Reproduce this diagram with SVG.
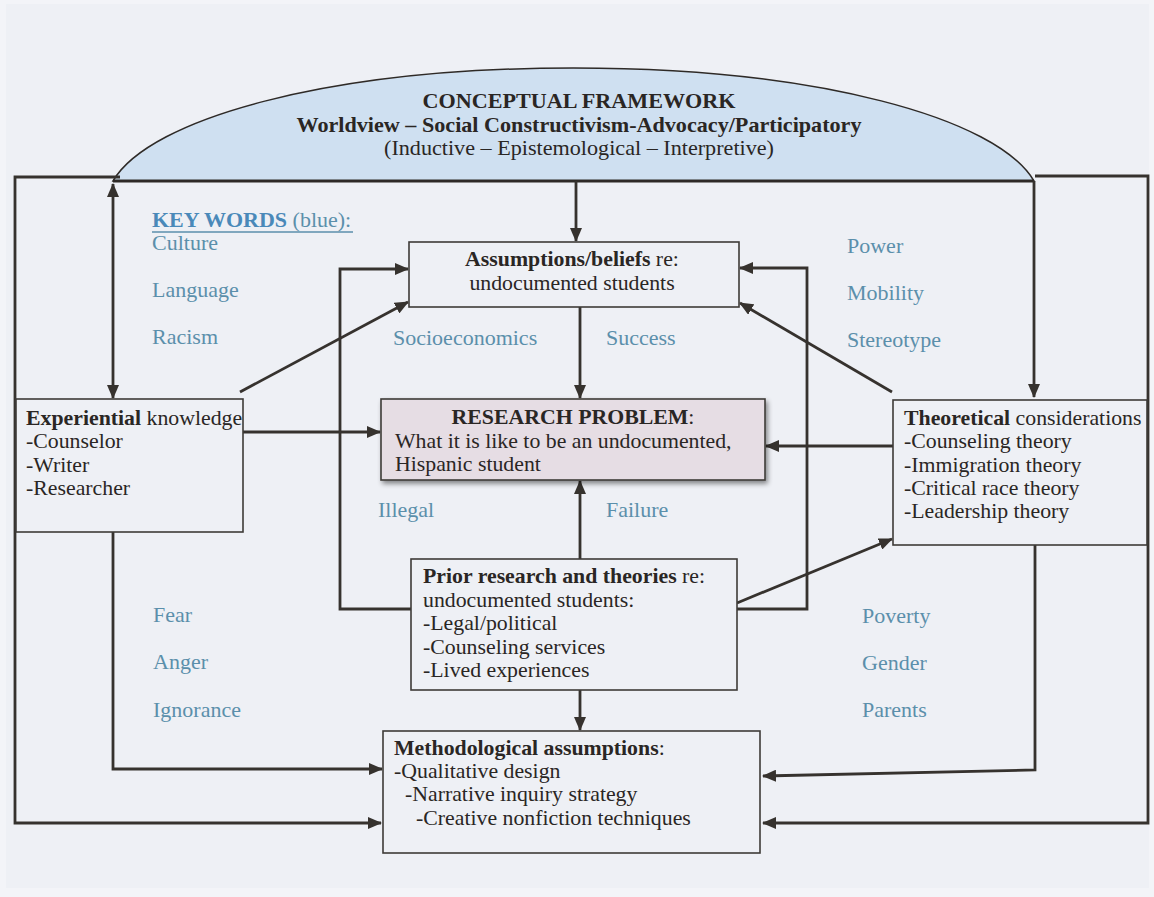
<svg xmlns="http://www.w3.org/2000/svg" width="1154" height="897" viewBox="0 0 1154 897">
<defs>
<marker id="ah" markerWidth="14" markerHeight="12" refX="13" refY="6" orient="auto-start-reverse" markerUnits="userSpaceOnUse">
<path d="M0,0 L14,6 L0,12 Z" fill="#36322e"/>
</marker>
<filter id="sh" x="-10%" y="-20%" width="125%" height="150%">
<feGaussianBlur in="SourceAlpha" stdDeviation="2.5"/>
<feOffset dx="2" dy="3" result="b"/>
<feComponentTransfer><feFuncA type="linear" slope="0.45"/></feComponentTransfer>
<feMerge><feMergeNode/><feMergeNode in="SourceGraphic"/></feMerge>
</filter>
</defs>
<style>
.bg{fill:#eef0f5}
.box{fill:#eef0f5;stroke:#3e3b38;stroke-width:1.6}
.c{fill:none;stroke:#36322e;stroke-width:2.8}
.t{font-family:"Liberation Serif","Times New Roman",serif;font-size:21.8px;fill:#2a2624}
.b{font-weight:bold}
.k{font-family:"Liberation Serif","Times New Roman",serif;font-size:22px;fill:#5b8fab}
.h{font-family:"Liberation Serif","Times New Roman",serif;font-size:21.5px;fill:#2a2624}
</style>
<rect x="0" y="0" width="1154" height="897" fill="#f3f4f8"/>
<rect class="bg" x="6" y="4" width="1143" height="884"/>

<g id="framework">
<path d="M113,181 C150,118 330,68 573.5,68 C817,68 997,118 1034,181 Z" fill="#cfe0f1" stroke="#2e2a27" stroke-width="1.5"/>
<line x1="113" y1="181" x2="1034" y2="181" stroke="#2e2a27" stroke-width="2.8"/>
<text class="h b" x="579" y="108" text-anchor="middle" textLength="313" lengthAdjust="spacingAndGlyphs">CONCEPTUAL FRAMEWORK</text>
<text class="h b" x="579" y="132" text-anchor="middle" textLength="565" lengthAdjust="spacingAndGlyphs">Worldview – Social Constructivism-Advocacy/Participatory</text>
<text class="h" x="579" y="155" text-anchor="middle" textLength="390" lengthAdjust="spacingAndGlyphs">(Inductive – Epistemological – Interpretive)</text>
</g>

<g id="connectors">
<path class="c" d="M120,177 H15 V823 H381" marker-end="url(#ah)"/>
<path class="c" d="M1035,176 H1148 V823 H763" marker-end="url(#ah)"/>
<path class="c" d="M113,184 V398" marker-start="url(#ah)" marker-end="url(#ah)"/>
<path class="c" d="M1034,181 V397" marker-end="url(#ah)"/>
<path class="c" d="M576,181 V241" marker-end="url(#ah)"/>
<path class="c" d="M580,307 V398" marker-end="url(#ah)"/>
<path class="c" d="M580,559 V481" marker-end="url(#ah)"/>
<path class="c" d="M580,690 V730" marker-end="url(#ah)"/>
<path class="c" d="M411,609 H340 V269 H408" marker-end="url(#ah)"/>
<path class="c" d="M737,609 H807 V268 H740" marker-end="url(#ah)"/>
<path class="c" d="M240,392 L408,302" marker-end="url(#ah)"/>
<path class="c" d="M892,392 L740,303" marker-end="url(#ah)"/>
<path class="c" d="M243,432 H380" marker-end="url(#ah)"/>
<path class="c" d="M893,446 H766" marker-end="url(#ah)"/>
<path class="c" d="M737,603 L892,539" marker-end="url(#ah)"/>
<path class="c" d="M113,532 V769 H382" marker-end="url(#ah)"/>
<path class="c" d="M1035,545 V770 L763,776" marker-end="url(#ah)"/>
</g>

<g id="keywords">
<text class="k" x="152" y="227"><tspan font-weight="bold" fill="#4a89b9">KEY WORDS</tspan> (blue):</text>
<line x1="152" y1="232" x2="353" y2="232" stroke="#5b8fab" stroke-width="1.5"/>
<text class="k" x="152" y="250">Culture</text>
<text class="k" x="152" y="297">Language</text>
<text class="k" x="152" y="344">Racism</text>
<text class="k" x="393" y="345">Socioeconomics</text>
<text class="k" x="606" y="345">Success</text>
<text class="k" x="847" y="253">Power</text>
<text class="k" x="847" y="300">Mobility</text>
<text class="k" x="847" y="347">Stereotype</text>
<text class="k" x="378" y="517">Illegal</text>
<text class="k" x="606" y="517">Failure</text>
<text class="k" x="153" y="622">Fear</text>
<text class="k" x="153" y="669">Anger</text>
<text class="k" x="153" y="717">Ignorance</text>
<text class="k" x="862" y="623">Poverty</text>
<text class="k" x="862" y="670">Gender</text>
<text class="k" x="862" y="717">Parents</text>
</g>

<g id="assumptions">
<rect class="box" x="409" y="242" width="330" height="65"/>
<text class="t" x="572" y="266" text-anchor="middle"><tspan class="b">Assumptions/beliefs</tspan> re:</text>
<text class="t" x="572" y="290" text-anchor="middle">undocumented students</text>
</g>

<g id="research-problem">
<rect x="381" y="399" width="384" height="81" fill="#e6dde4" stroke="#3e3b38" stroke-width="1.6" filter="url(#sh)"/>
<text class="t b" x="573" y="424" text-anchor="middle">RESEARCH PROBLEM<tspan font-weight="normal">:</tspan></text>
<text class="t" x="395" y="448">What it is like to be an undocumented,</text>
<text class="t" x="395" y="471">Hispanic student</text>
</g>

<g id="experiential">
<rect class="box" x="16" y="399" width="227" height="133"/>
<text class="t" x="26" y="425"><tspan class="b">Experiential</tspan> knowledge</text>
<text class="t" x="26" y="448">-Counselor</text>
<text class="t" x="26" y="472">-Writer</text>
<text class="t" x="26" y="495">-Researcher</text>
</g>

<g id="theoretical">
<rect class="box" x="893" y="400" width="254" height="145"/>
<text class="t" x="904" y="425"><tspan class="b">Theoretical</tspan> considerations</text>
<text class="t" x="904" y="448">-Counseling theory</text>
<text class="t" x="904" y="472">-Immigration theory</text>
<text class="t" x="904" y="495">-Critical race theory</text>
<text class="t" x="904" y="518">-Leadership theory</text>
</g>

<g id="prior-research">
<rect class="box" x="411" y="559" width="326" height="131"/>
<text class="t" x="423" y="583"><tspan class="b">Prior research and theories</tspan> re:</text>
<text class="t" x="423" y="607">undocumented students:</text>
<text class="t" x="423" y="630">-Legal/political</text>
<text class="t" x="423" y="654">-Counseling services</text>
<text class="t" x="423" y="677">-Lived experiences</text>
</g>

<g id="methodological">
<rect class="box" x="383" y="731" width="377" height="122"/>
<text class="t" x="394" y="755"><tspan class="b">Methodological assumptions</tspan>:</text>
<text class="t" x="394" y="778">-Qualitative design</text>
<text class="t" x="405" y="801">-Narrative inquiry strategy</text>
<text class="t" x="416" y="825">-Creative nonfiction techniques</text>
</g>
</svg>
